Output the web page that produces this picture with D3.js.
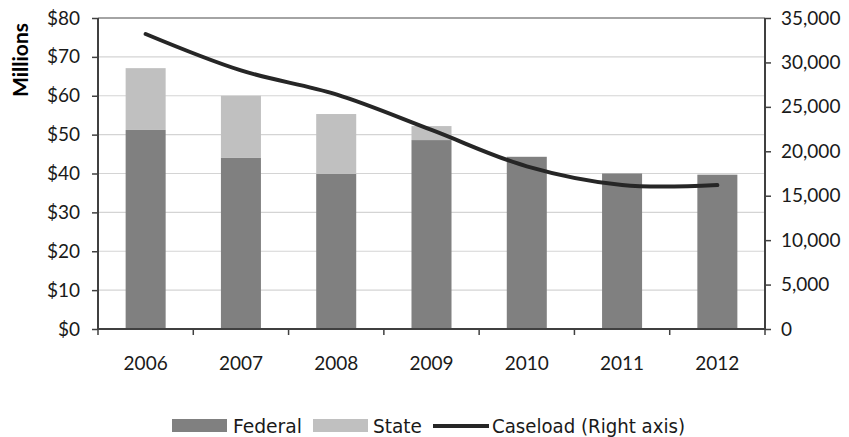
<!DOCTYPE html>
<html>
<head>
<meta charset="utf-8">
<script src="https://cdn.jsdelivr.net/npm/d3@7"></script>
<style>
  body { margin: 0; background: #fff; }
  svg { display: block; }
</style>
</head>
<body>
<div id="chart"></div>
<script>
const years = ['2006', '2007', '2008', '2009', '2010', '2011', '2012']
const federal = [51.2, 44.1, 39.9, 48.6, 44.3, 40.0, 39.7]
const state = [15.9, 15.9, 15.4, 3.6, 0, 0, 0]
const caseload = [33200, 29100, 26400, 22400, 18300, 16200, 16200]
const leftTicks = [0, 10, 20, 30, 40, 50, 60, 70, 80]
const rightTicks = [0, 5000, 10000, 15000, 20000, 25000, 30000, 35000]

const W = 849, H = 437
const margin = { top: 18, right: 84, bottom: 108, left: 98 }
const width = W - margin.left - margin.right
const height = H - margin.top - margin.bottom

const svg = d3.select('#chart').append('svg')
  .attr('width', W)
  .attr('height', H)
const g = svg.append('g')
  .attr('transform', 'translate(' + margin.left + ',' + margin.top + ')')

const x = d3.scaleBand().domain(years).range([0, width]).paddingInner(0.58).paddingOuter(0.29)
const yL = d3.scaleLinear().domain([0, 80]).range([height, 0])
const yR = d3.scaleLinear().domain([0, 35000]).range([height, 0])

// gridlines
g.append('g')
  .selectAll('line')
  .data(leftTicks.slice(1))
  .join('line')
    .attr('x1', 0).attr('x2', width)
    .attr('y1', d => yL(d)).attr('y2', d => yL(d))
    .attr('stroke', d => d == 80 ? '#868686' : '#d4d4d4')
    .attr('stroke-width', d => d == 80 ? 1.5 : 1.2)

// stacked bars
const stack = years.map((yr, i) => ({ year: yr, fed: federal[i], st: state[i] }))
g.append('g').selectAll('rect')
  .data(stack)
  .join('rect')
    .attr('x', d => x(d.year))
    .attr('width', x.bandwidth())
    .attr('y', d => yL(d.fed))
    .attr('height', d => yL(0) - yL(d.fed))
    .attr('fill', '#808080')
g.append('g').selectAll('rect')
  .data(stack.filter(d => d.st > 0))
  .join('rect')
    .attr('x', d => x(d.year))
    .attr('width', x.bandwidth())
    .attr('y', d => yL(d.fed + d.st))
    .attr('height', d => yL(d.fed) - yL(d.fed + d.st))
    .attr('fill', '#c0c0c0')

// caseload line
const line = d3.line()
  .x((d, i) => x(years[i]) + x.bandwidth() / 2)
  .y(d => yR(d))
  .curve(d3.curveCatmullRom.alpha(0.5))
g.append('path')
  .datum(caseload)
  .attr('d', line)
  .attr('fill', 'none')
  .attr('stroke', '#262626')
  .attr('stroke-width', 4)
  .attr('stroke-linecap', 'round')

// axes
const axisColor = '#404040'
const tickFont = 'Lato, "Liberation Sans", sans-serif'

const leftAxis = g.append('g')
  .call(d3.axisLeft(yL).tickValues(leftTicks).tickSize(6).tickPadding(12).tickFormat(d => '$' + d))
const rightAxis = g.append('g')
  .attr('transform', 'translate(' + width + ',0)')
  .call(d3.axisRight(yR).tickValues(rightTicks).tickSize(6).tickPadding(10).tickFormat(d3.format(',')))
const bottomAxis = g.append('g')
  .attr('transform', 'translate(0,' + height + ')')
  .call(d3.axisBottom(x).tickSize(0).tickPadding(28))

// category boundary ticks on the x axis
bottomAxis.append('g').selectAll('line')
  .data(d3.range(years.length + 1))
  .join('line')
    .attr('x1', i => i * x.step()).attr('x2', i => i * x.step())
    .attr('y1', 0).attr('y2', 6)
    .attr('stroke', axisColor).attr('stroke-width', 1.5)

;[leftAxis, rightAxis, bottomAxis].forEach(a => {
  a.select('.domain').attr('stroke', axisColor).attr('stroke-width', 2)
  a.selectAll('.tick line').attr('stroke', axisColor).attr('stroke-width', 1.5)
  a.selectAll('text')
    .attr('fill', '#1a1a1a')
    .style('font-family', tickFont)
    .style('font-size', '19px')
    .style('font-weight', 400)
})
leftAxis.select('.domain').attr('d', 'M0,0V' + height)
rightAxis.select('.domain').attr('d', 'M0,0V' + height)
bottomAxis.select('.domain').attr('d', 'M0,0H' + width)

// y title
svg.append('text')
  .attr('transform', 'translate(21,60) rotate(-90)')
  .attr('text-anchor', 'middle')
  .attr('dy', '0.35em')
  .style('font-family', tickFont)
  .style('font-size', '21px')
  .style('font-weight', 700)
  .attr('fill', '#000')
  .text('Millions')

// legend
const legendFont = '"Liberation Sans Narrow", "DejaVu Sans Condensed", sans-serif'
const legend = svg.append('g').attr('transform', 'translate(0,426)')
const items = [
  { label: 'Federal', type: 'rect', color: '#808080', x0: 172, tx: 233, w: 69 },
  { label: 'State', type: 'rect', color: '#c0c0c0', x0: 313, tx: 373, w: 49 },
  { label: 'Caseload (Right axis)', type: 'line', color: '#262626', x0: 433, tx: 492, w: 193 }
]
items.forEach(it => {
  if (it.type == 'rect') {
    legend.append('rect')
      .attr('x', it.x0).attr('y', -7)
      .attr('width', 55).attr('height', 13)
      .attr('fill', it.color)
  } else {
    legend.append('line')
      .attr('x1', it.x0).attr('x2', it.x0 + 56)
      .attr('y1', 0).attr('y2', 0)
      .attr('stroke', it.color).attr('stroke-width', 4)
  }
  legend.append('text')
    .attr('x', it.tx).attr('y', 0)
    .attr('dy', '0.36em')
    .attr('textLength', it.w)
    .attr('lengthAdjust', 'spacingAndGlyphs')
    .style('font-family', legendFont)
    .style('font-size', '20px')
    .attr('fill', '#1a1a1a')
    .text(it.label)
})
</script>
</body>
</html>
